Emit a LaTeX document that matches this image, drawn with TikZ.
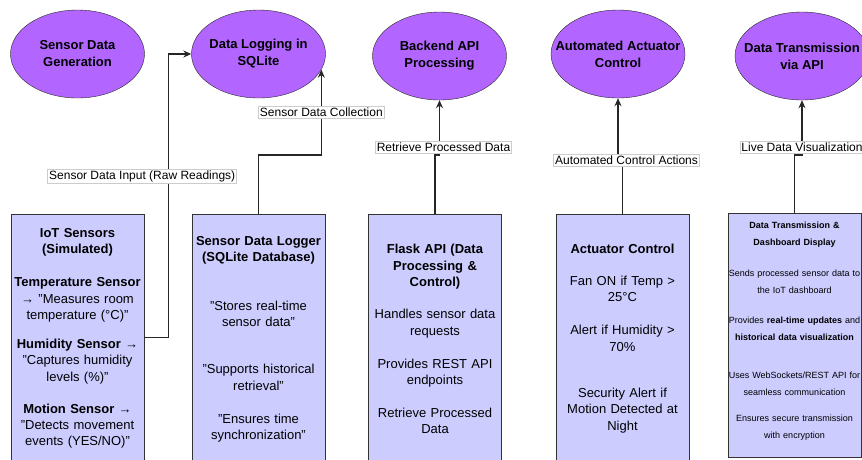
\documentclass[tikz,border=0pt]{standalone}
\usepackage{fontspec}
\setmainfont{Liberation Sans}
\usetikzlibrary{positioning,arrows.meta,shapes.geometric}

\definecolor{bubblefill}{HTML}{B266FF}
\definecolor{boxfill}{HTML}{CCCCFF}

\begin{document}
\begin{tikzpicture}[x=1pt,y=-1pt,
    bubble/.style={ellipse, draw=black!85, fill=bubblefill, minimum width=134pt, minimum height=88pt, inner sep=0pt},
    bubtext/.style={font=\fontsize{13}{17}\selectfont\bfseries, align=center, inner sep=0pt},
    block/.style={draw=black!80, fill=boxfill, minimum width=133pt, minimum height=246pt, anchor=north, inner sep=0pt},
    blocktext/.style={text width=140pt, align=center, inner sep=0pt, font=\fontsize{13}{16.3}\selectfont},
    flow/.style={draw=black!85, line width=1.1pt, -{Stealth[length=8pt,width=7pt]}},
    lbl/.style={fill=white, draw=black!20, line width=0.5pt, inner sep=1.5pt, font=\fontsize{12}{14}\selectfont}]
    \useasboundingbox (0,0) rectangle (862,459);

    % stages along the top
    \node[bubble, label={[bubtext]center:{Sensor Data\\Generation}}] (gen) at (77.5,54) {};
    \node[bubble, label={[bubtext]center:{Data Logging in\\SQLite}}] (dblog) at (258.5,54) {};
    \node[bubble, label={[bubtext]center:{Backend API\\Processing}}] (backend) at (439.5,56) {};
    \node[bubble, label={[bubtext]center:{Automated Actuator\\Control}}] (autoact) at (618,54) {};
    \node[bubble, label={[bubtext]center:{Data Transmission\\via API}}] (trans) at (802,56) {};

    % components along the bottom
    \node[block] (iot) at (77.5,214) {};
    \node[block] (logger) at (258.5,214) {};
    \node[block] (flask) at (435,214) {};
    \node[block] (actuator) at (622.5,214) {};
    \node[block, minimum height=244pt] (dash) at (794.5,213) {};

    \node[blocktext, below=14.3pt of iot.north] (iottxt) {%
      \textbf{IoT Sensors}\\\textbf{(Simulated)}\\[16.7pt]
      \textbf{Temperature Sensor}\\→ "Measures room\\temperature (°C)"\\[12.7pt]
      \textbf{Humidity Sensor} →\\"Captures humidity\\levels (\%)"\\[15.7pt]
      \textbf{Motion Sensor} →\\"Detects movement\\events (YES/NO)"};
    \node[blocktext, below=22.3pt of logger.north] (loggertxt) {%
      \textbf{Sensor Data Logger}\\\textbf{(SQLite Database)}\\[32pt]
      "Stores real-time\\sensor data"\\[31pt]
      "Supports historical\\retrieval"\\[17pt]
      "Ensures time\\synchronization"};
    \node[blocktext, below=30.3pt of flask.north] (flasktxt) {%
      \textbf{Flask API (Data}\\\textbf{Processing \&}\\\textbf{Control)}\\[16pt]
      Handles sensor data\\requests\\[17pt]
      Provides REST API\\endpoints\\[16pt]
      Retrieve Processed\\Data};
    \node[blocktext, below=30.3pt of actuator.north] (actuatortxt) {%
      \textbf{Actuator Control}\\[15pt]
      Fan ON if Temp >\\25°C\\[17pt]
      Alert if Humidity >\\70\%\\[30pt]
      Security Alert if\\Motion Detected at\\Night};
    \node[blocktext, font=\fontsize{9}{17}\selectfont, below=8.8pt of dash.north] (dashtxt) {%
      \textbf{Data Transmission \&}\\\textbf{Dashboard Display}\\[14pt]
      Sends processed sensor data to\\the IoT dashboard\\[13pt]
      Provides \textbf{real-time updates} and\\\textbf{historical data visualization}\\[21pt]
      Uses WebSockets/REST API for\\seamless communication\\[9pt]
      Ensures secure transmission\\with encryption};

    % data flow
    \draw[flow] (iot.east) -- ++(24,0) |- (dblog.west)
      node[lbl, pos=0.284, xshift=-26pt] {Sensor Data Input (Raw Readings)};
    \draw[flow] (logger.north) -- ++(0,-59) -| (dblog.-14)
      node[lbl, pos=0.75] {Sensor Data Collection};
    \draw[flow] (flask.north) -- ++(0,-59) -| (backend.south)
      node[lbl, pos=0.57, xshift=4pt] {Retrieve Processed Data};
    \draw[flow] (actuator.north) -- ++(0,-54)
      node[lbl, xshift=4pt] {Automated Control Actions} -| (autoact.south);
    \draw[flow] (dash.north) -- ++(0,-58) -| (trans.south)
      node[lbl, pos=0.57] {Live Data Visualization};
\end{tikzpicture}
\end{document}
